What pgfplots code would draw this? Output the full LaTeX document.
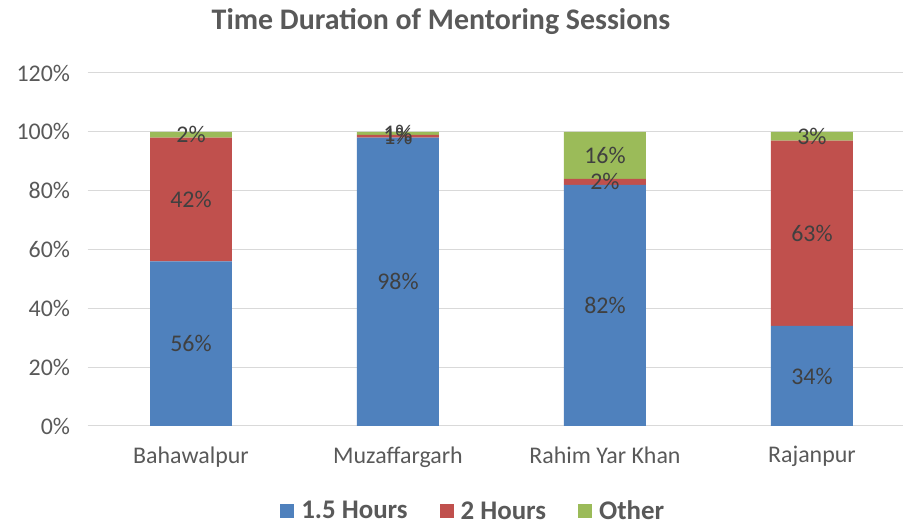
\documentclass[border=0pt]{standalone}
\usepackage{pgfplots}
\pgfplotsset{compat=1.18}
\usepackage{pgfplotstable}
\usepackage{fontspec}
\setmainfont{Carlito}
\definecolor{cblue}{HTML}{4F81BD}
\definecolor{cred}{HTML}{C0504D}
\definecolor{cgreen}{HTML}{9BBB59}
\definecolor{cgrid}{HTML}{D9D9D9}
\definecolor{ctick}{HTML}{595959}
\definecolor{clab}{HTML}{404040}
\pgfplotstableread{
x a b c
0 56 42 2
1 98 1 1
2 82 2 16
3 34 63 3
}\data
\pgfplotsset{
  common/.style={
    scale only axis, width=815.5bp, height=353bp,
    at={(87.5bp,96bp)}, anchor=south west,
    xmin=-0.5, xmax=3.44, ymin=0, ymax=120,
    /pgf/number format/assume math mode=true,
  },
  mylegend/.style={legend image code/.code={\fill[##1,draw=none] (0bp,-7bp) rectangle (14bp,7bp);}},
}
\begin{document}
\begin{tikzpicture}
\useasboundingbox (0,0) rectangle (903bp,522bp);
\begin{axis}[common,
  ybar stacked, bar width=0.396,
  axis line style={draw=none},
  ytick={0,20,...,120}, ymajorgrids, grid style={cgrid, line width=1bp},
  major tick length=0,
  yticklabel={\pgfmathprintnumber{\tick}\%},
  yticklabel style={font=\fontsize{24}{26}\selectfont, text=ctick, xshift=-14bp},
  xtick={0,1,2,3},
  xticklabels={Bahawalpur,Muzaffargarh,Rahim Yar Khan,Rajanpur},
  xticklabel style={font=\fontsize{24}{26}\selectfont, text=ctick, yshift=-17bp},
  title={Time Duration of Mentoring Sessions},
  title style={at={(axis description cs:0.4335,1)}, anchor=center, yshift=45bp, font=\bfseries\fontsize{30}{32}\selectfont, text=ctick},
  legend style={at={(axis description cs:0.473,0)}, anchor=center, yshift=-85bp, draw=none, fill=none,
    legend columns=-1, font=\bfseries\fontsize{27}{30}\selectfont, text=ctick,
    /tikz/every odd column/.append style={column sep=5bp},
    /tikz/every even column/.append style={column sep=30bp}},
]
\addplot[fill=cblue, draw=none, mylegend] table[x=x, y=a] {\data};
\addplot[fill=cred, draw=none, mylegend] table[x=x, y=b] {\data};
\addplot[fill=cgreen, draw=none, mylegend] table[x=x, y=c] {\data};
\legend{1.5 Hours, 2 Hours, Other}
\end{axis}
\begin{axis}[common, hide axis,
  nodes near coords={\pgfmathprintnumber{\pgfplotspointmeta}\%},
  every node near coord/.style={anchor=center, font=\fontsize{24}{26}\selectfont, text=clab},
]
\addplot[draw=none, mark=none, point meta=explicit] table[x=x, y expr=\thisrow{a}/2, meta=a] {\data};
\addplot[draw=none, mark=none, point meta=explicit] table[x=x, y expr=\thisrow{a}+\thisrow{b}/2, meta=b] {\data};
\addplot[draw=none, mark=none, point meta=explicit] table[x=x, y expr=\thisrow{a}+\thisrow{b}+\thisrow{c}/2, meta=c] {\data};
\end{axis}
\end{tikzpicture}
\end{document}
